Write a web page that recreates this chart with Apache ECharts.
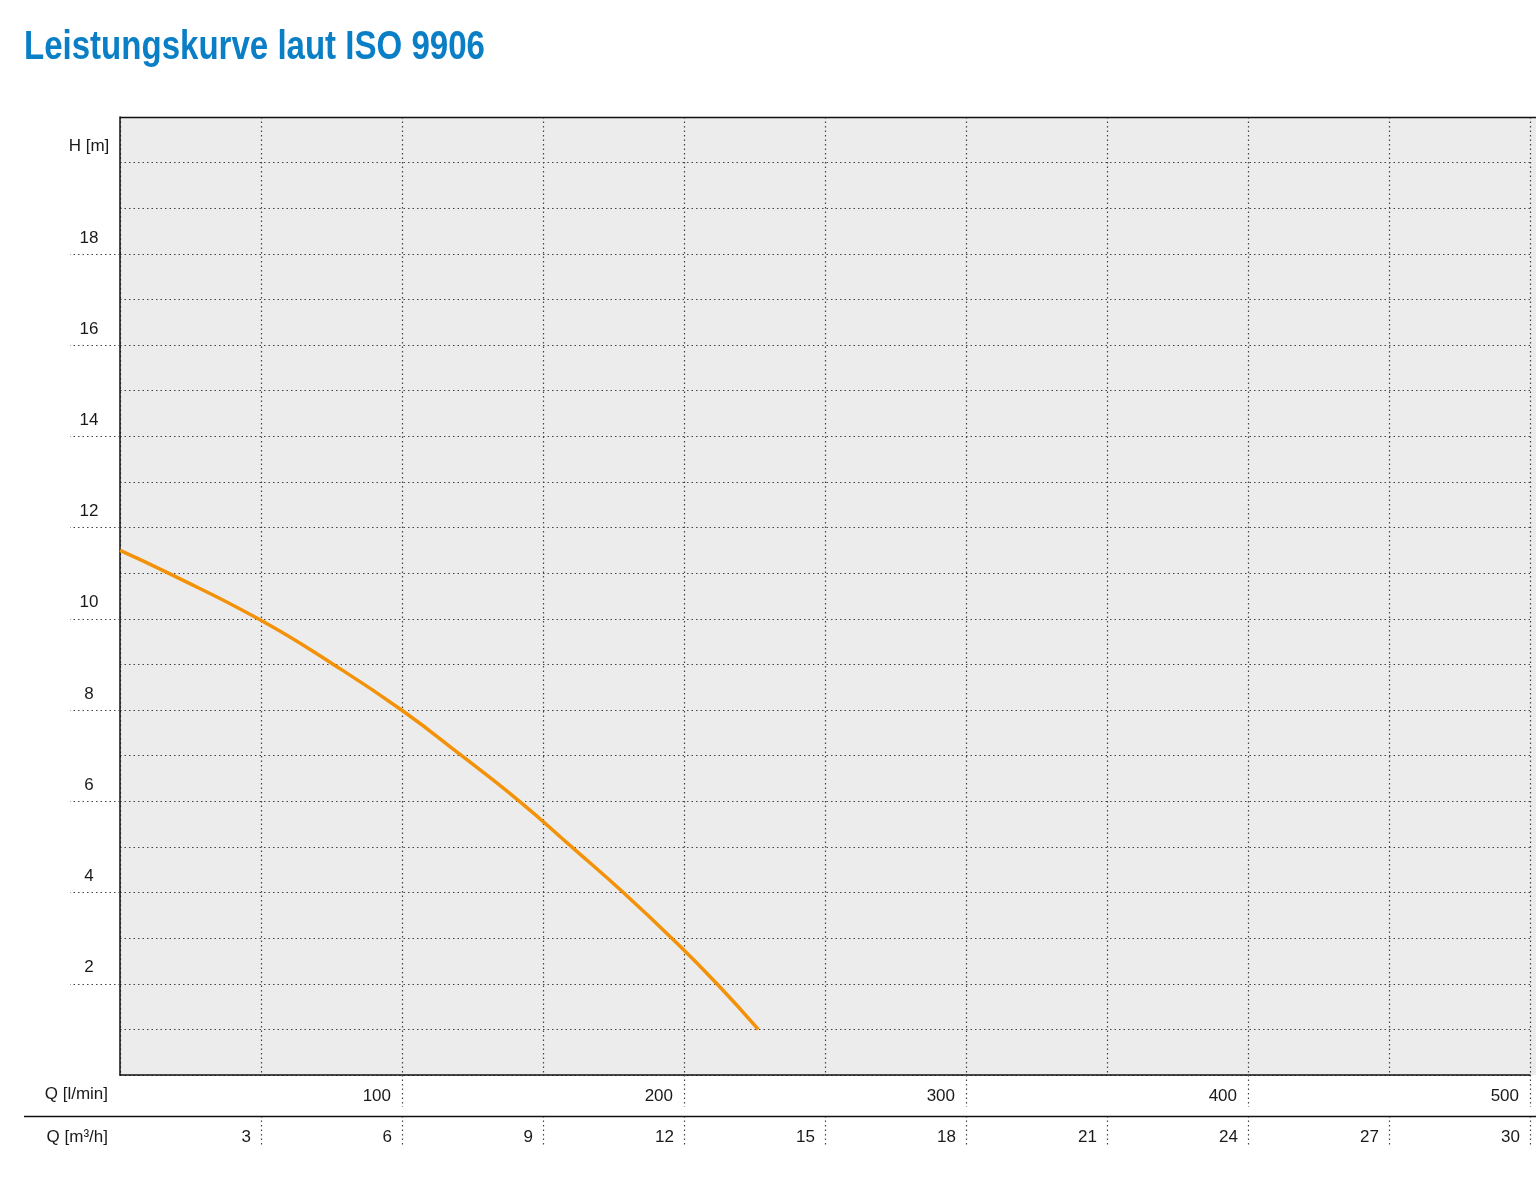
<!DOCTYPE html>
<html>
<head>
<meta charset="utf-8">
<style>
  html, body { margin: 0; padding: 0; background: #ffffff; }
  #chart { width: 1536px; height: 1182px; }
</style>
<script src="https://cdn.jsdelivr.net/npm/echarts@6/dist/echarts.min.js"></script>
</head>
<body>
<div id="chart"></div>
<script>
// ---- data ----
const titleText = 'Leistungskurve laut ISO 9906';
const flowM3h = [0, 1.03, 2.94, 4.54, 5.99, 7.27, 8.50, 9.61, 10.71, 11.74, 12.70, 13.58];
const headM   = [11.5, 11.0, 10.0, 9.0, 8.0, 7.0, 6.0, 5.0, 4.0, 3.0, 2.0, 1.0];
const m3hTicks  = [3, 6, 9, 12, 15, 18, 21, 24, 27, 30];
const lminTicks = [100, 200, 300, 400, 500];
const headTicks = [2, 4, 6, 8, 10, 12, 14, 16, 18];
const headLabelValues = [2, 4, 6, 8, 10, 12, 14, 16, 18, 20];
const yAxisName = 'H [m]';
const xAxisNameLmin = 'Q [l/min]';
const xAxisNameM3h = 'Q [m\u00B3/h]';

const FONT = '"Liberation Sans", Arial, sans-serif';
const dotted = { type: [1.5, 3], color: '#444', width: 1.2 };
const labelStyle = { fontFamily: FONT, fontSize: 17, color: '#1a1a1a' };

const chart = echarts.init(document.getElementById('chart'), null, { renderer: 'canvas' });

const option = {
  animation: false,
  backgroundColor: '#ffffff',
  grid: [
    { left: 120, top: 117, right: 6, bottom: 107, containLabel: false },
    { left: 120, top: 1076, right: 6, bottom: 66, containLabel: false }
  ],
  graphic: [
    { type: 'rect', z: -10, silent: true,
      shape: { x: 120, y: 117, width: 1416, height: 958 },
      style: { fill: '#ebeceb' } },
    { type: 'line', z: 10, silent: true,
      shape: { x1: 120, y1: 117.5, x2: 1536, y2: 117.5 },
      style: { stroke: '#111', lineWidth: 1.5 } },
    { type: 'line', z: 10, silent: true,
      shape: { x1: 24, y1: 1116.5, x2: 1536, y2: 1116.5 },
      style: { stroke: '#111', lineWidth: 1.5 } },
    { type: 'text', z: 10, silent: true, x: 24, y: 48, scaleX: 0.826, scaleY: 1,
      style: { text: titleText, x: 0, y: 0, fill: '#0b7fc6',
               font: 'bold 40px ' + FONT, verticalAlign: 'middle', align: 'left' } }
  ],
  xAxis: [
    { // l/min (bottom border of plot)
      gridIndex: 0, type: 'value', min: 0, max: 500, interval: 100, position: 'bottom',
      name: xAxisNameLmin, nameLocation: 'start', nameGap: 12,
      nameTextStyle: Object.assign({ align: 'right', verticalAlign: 'top', lineHeight: 38 }, labelStyle),
      axisLine: { show: true, lineStyle: { color: '#111', width: 1.5 } },
      axisTick: { show: true, customValues: lminTicks, length: 32, lineStyle: dotted },
      axisLabel: Object.assign({ customValues: lminTicks, align: 'right', verticalAlign: 'middle',
                                 margin: 21, padding: [0, 11, 0, 0] }, labelStyle),
      splitLine: { show: false }
    },
    { // m3/h scale for the plot: vertical grid lines
      gridIndex: 0, type: 'value', min: 0, max: 30, interval: 3, position: 'bottom',
      axisLine: { show: false }, axisTick: { show: false }, axisLabel: { show: false },
      splitLine: { show: true, lineStyle: dotted }
    },
    { // m3/h label row
      gridIndex: 1, type: 'value', min: 0, max: 30, interval: 3, position: 'bottom',
      name: xAxisNameM3h, nameLocation: 'start', nameGap: 12,
      nameTextStyle: Object.assign({ align: 'right', verticalAlign: 'top', lineHeight: 42 }, labelStyle),
      axisLine: { show: false },
      axisTick: { show: true, customValues: m3hTicks, length: 30, lineStyle: dotted },
      axisLabel: Object.assign({ customValues: m3hTicks, align: 'right', verticalAlign: 'middle',
                                 margin: 21, padding: [0, 10, 0, 0] }, labelStyle),
      splitLine: { show: false }
    }
  ],
  yAxis: [
    { // grid lines + left border
      gridIndex: 0, type: 'value', min: 0, max: 21, interval: 1, position: 'left',
      axisLine: { show: true, lineStyle: { color: '#111', width: 1.5 } },
      axisTick: { show: false },
      axisLabel: { show: false },
      splitLine: { show: true, lineStyle: dotted }
    },
    { // ticks + labels
      gridIndex: 0, type: 'value', min: 0, max: 21, interval: 1, position: 'left',
      axisLine: { show: false },
      axisTick: { show: true, customValues: headTicks, length: 50, lineStyle: dotted },
      axisLabel: Object.assign({
        customValues: headLabelValues, align: 'center', verticalAlign: 'bottom',
        margin: 31, padding: [0, 0, 6, 0], lineHeight: 20,
        formatter: function (v) { return v === 20 ? yAxisName : String(v); }
      }, labelStyle),
      splitLine: { show: false }
    },
    { // helper for label row grid
      gridIndex: 1, type: 'value', min: 0, max: 1, show: false
    }
  ],
  series: [
    {
      type: 'line', xAxisIndex: 1, yAxisIndex: 0,
      data: flowM3h.map((q, i) => [q, headM[i]]),
      smooth: 0.5, showSymbol: false, symbol: 'none',
      lineStyle: { color: '#f39208', width: 3.5 },
      z: 5
    }
  ]
};
chart.setOption(option);
</script>
</body>
</html>
